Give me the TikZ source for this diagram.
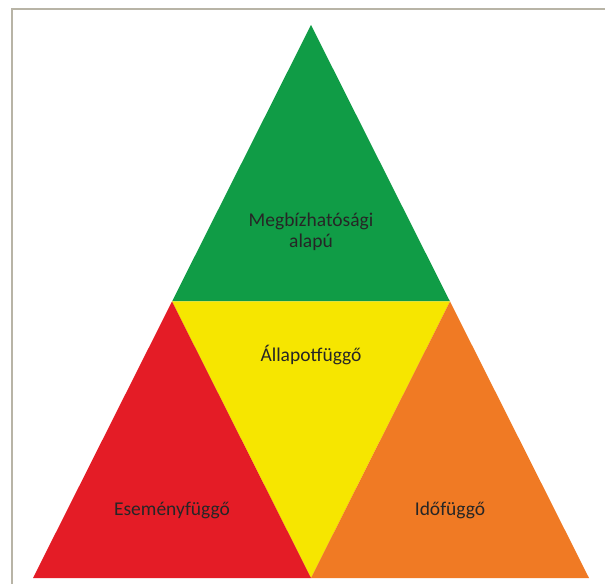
\documentclass[tikz,border=0pt]{standalone}
\usepackage{fontspec}
\setmainfont{Carlito}
\definecolor{zold}{RGB}{16,156,70}
\definecolor{sarga}{RGB}{246,230,0}
\definecolor{piros}{RGB}{228,28,38}
\definecolor{narancs}{RGB}{240,122,36}
\definecolor{keret}{RGB}{184,180,166}

\begin{document}
\begin{tikzpicture}[x=1pt,y=1pt,
  felirat/.style={font=\fontsize{19.5}{21}\selectfont, text=black!85, align=center, inner sep=0pt}]
\useasboundingbox (0,0) rectangle (605,584);
\fill[white] (0,0) rectangle (605,584);
% keret
\draw[keret, line width=2pt] (12,0) -- (12,575) -- (605,575);

% csucsok
\coordinate (A) at (311,559);
\coordinate (L) at (33,6);
\coordinate (R) at (589,6);
\coordinate (ML) at (172,282.5);
\coordinate (MR) at (450,282.5);
\coordinate (BM) at (311,6);

% negy haromszog
\fill[zold] (A) -- (ML) -- (MR) -- cycle;
\fill[sarga] (ML) -- (MR) -- (BM) -- cycle;
\fill[piros] (L) -- (BM) -- (ML) -- cycle;
\fill[narancs] (BM) -- (R) -- (MR) -- cycle;

% feliratok
\node[felirat] (megb) at (311,352) {Megbízhatósági\\alapú};
\node[felirat] (allapot) at (311,229) {Állapotfüggő};
\node[felirat] (esemeny) at (172,74) {Eseményfüggő};
\node[felirat] (ido) at (450,74) {Időfüggő};
\end{tikzpicture}
\end{document}
